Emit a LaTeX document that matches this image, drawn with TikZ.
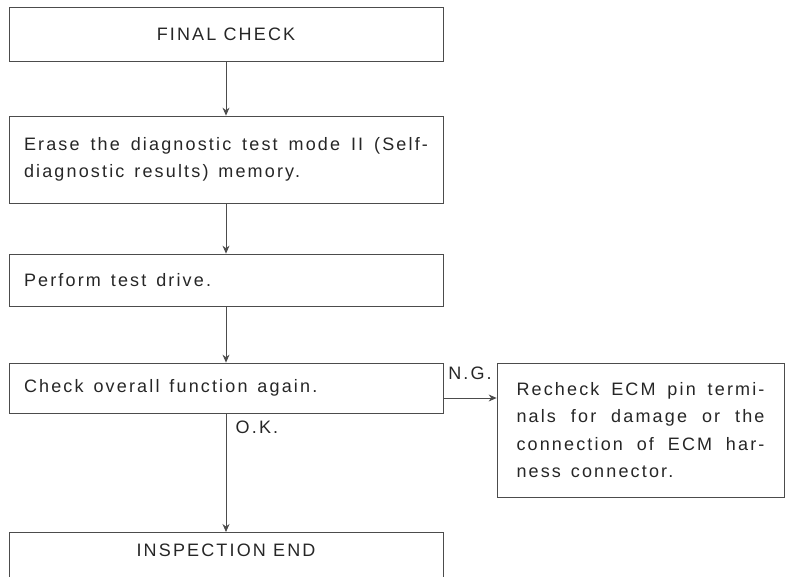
\documentclass[tikz,border=0pt]{standalone}
\usepackage{fontspec}
\setmainfont{Liberation Sans}[LetterSpace=12]
\usetikzlibrary{arrows.meta}

\begin{document}
\begin{tikzpicture}[x=1pt,y=-1pt]
\tikzstyle{every node}=[font=\fontsize{18}{27.5}\selectfont, text=black!85];
\tikzstyle{box}=[draw=black!70, line width=0.8pt, rectangle, inner xsep=15pt, inner ysep=0pt, minimum width=434pt];
\tikzstyle{leftbox}=[box, text width=404pt, align=left, execute at begin node={\spaceskip=0.55em\relax}];
\tikzstyle{fullbox}=[box, text width=404pt, align=justify, execute at begin node={\spaceskip=0.55em plus 0.6em minus 0.1em\relax}];
\tikzstyle{arr}=[draw=black!70, line width=0.8pt, -{Stealth[length=8pt,width=7pt]}];

\useasboundingbox (0,0) rectangle (789,577);
\clip (0,0) rectangle (789,577);

\draw (226,34) node[box, minimum height=54pt] (b1) {FINAL CHECK};
\draw (226,159.5) node[fullbox, minimum height=87pt] (b2) {Erase the diagnostic test mode II (Self-\linebreak diagnostic results) memory.};
\draw (226,280) node[leftbox, minimum height=52pt] (b3) {Perform test drive.};
\draw (226,388) node[leftbox, minimum height=50pt] (b4) {Check overall function again.};
\draw (640.5,430) node[fullbox, minimum width=287pt, inner xsep=18pt, text width=248pt, minimum height=134pt] (b5) {Recheck ECM pin termi-\linebreak nals for damage or the\linebreak connection of ECM har-\linebreak ness connector.};
\draw (226,532) node[box, anchor=north, text height=24.5pt, text depth=50pt] (b6) {INSPECTION END};

\draw[arr] (b1) -- (b2);
\draw[arr] (b2) -- (b3);
\draw[arr] (b3) -- (b4);
\draw[arr] (b4) -- node[pos=0.12, right=6pt] {O.K.} (b6);
\draw[arr] ([yshift=-10pt]b4.east) -- node[above=15pt] {N.G.} ([yshift=-10pt]b4.east -| b5.west);

\end{tikzpicture}
\end{document}
